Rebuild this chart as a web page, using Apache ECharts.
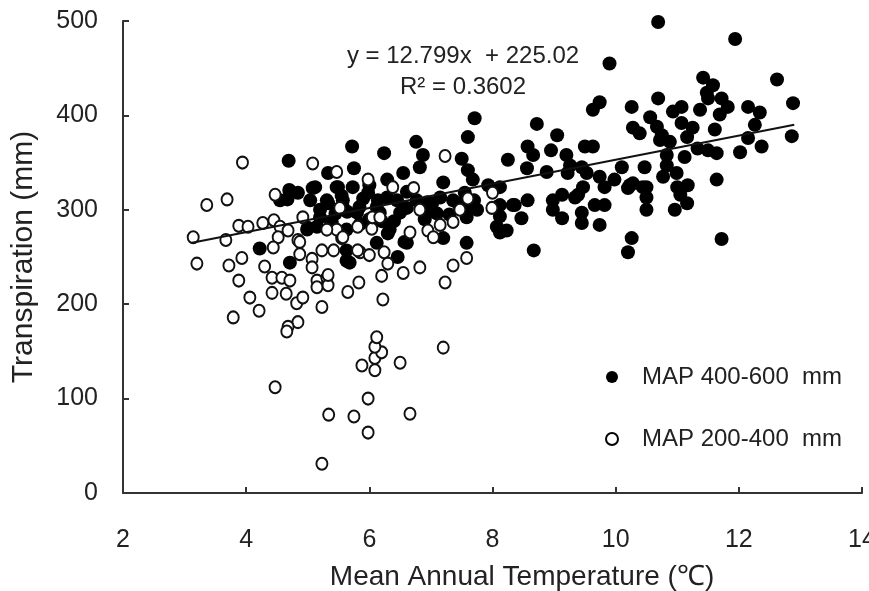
<!DOCTYPE html>
<html>
<head>
<meta charset="utf-8">
<script src="https://cdn.jsdelivr.net/npm/echarts@6/dist/echarts.min.js"></script>
<style>
html,body{margin:0;padding:0;background:#fff;}
#c{width:869px;height:591px;}
</style>
</head>
<body>
<div id="c"></div>
<script>
// MAP 400-600 mm (filled circles): [temperature, transpiration]
const map400_600 = [
  [4.22,259],[4.71,244],[4.69,352],[4.70,321],[4.67,311],[4.55,310],[4.71,319],[4.84,318],[5.08,323],
  [5.31,310],[5.47,324],[5.57,310],[4.99,279],[5.15,282],[5.20,292],[5.39,287],[5.63,279],[5.63,246],
  [7.71,397],[7.60,377],[5.72,367],[6.24,360],[6.76,372],[6.87,358],[5.75,344],[7.50,354],[5.12,324],
  [5.33,339],[5.49,324],[6.29,332],[6.55,339],[6.82,345],[7.20,329],[7.60,342],[7.68,332],[7.93,326],
  [5.98,318],[6.14,310],[6.61,319],[6.77,310],[6.94,308],[7.15,313],[7.36,310],[7.50,303],[7.55,318],
  [5.04,310],[5.33,307],[5.57,303],[5.80,297],[6.17,297],[6.33,279],[6.50,297],[6.94,297],[7.58,292],
  [5.00,281],[6.12,265],[6.57,266],[7.20,270],[7.58,265],[8.67,257],[8.23,278],
  [5.73,324],[8.12,324],[6.29,313],[6.12,303],[7.02,307],[7.44,307],[7.62,302],[6.61,302],[8.33,305],
  [8.07,303],[8.12,293],[8.07,282],[8.12,276],[5.64,298],[5.84,303],[6.30,275],[6.61,265],[6.46,250],
  [5.68,244],[5.63,257],
  [5.20,300],[5.45,296],[5.90,312],[6.00,290],[5.85,285],[6.20,288],[6.40,288],[6.45,310],[6.90,290],
  [7.10,296],[7.30,295],[7.70,310],[7.75,300],[6.00,326],[5.55,315],
  [9.90,455],[9.74,414],[9.63,406],[10.26,409],[10.69,418],[8.72,391],[9.05,379],[8.25,353],[8.57,367],
  [8.66,358],[8.95,363],[9.20,358],[9.50,367],[9.63,367],[10.28,387],[10.39,381],[10.56,398],[10.67,388],
  [10.75,379],[8.56,344],[8.88,340],[9.26,347],[9.45,345],[9.53,339],[9.22,339],[10.10,345],[10.47,345],
  [9.47,324],[9.39,316],[9.74,335],[9.82,324],[9.98,332],[10.20,323],[10.28,328],[10.50,324],[10.50,313],
  [10.50,300],[10.77,335],[8.12,305],[8.36,305],[8.57,310],[8.47,291],[8.98,310],[9.13,316],[8.98,300],
  [9.13,291],[9.34,313],[9.45,297],[9.45,286],[9.66,305],[9.82,305],[9.74,284],[10.26,270],[10.20,255],
  [10.69,499],[10.99,339],[10.72,374],[10.23,326],[10.44,324],
  [11.94,481],[12.62,438],[12.88,413],[12.86,378],[11.42,440],[11.58,432],[11.48,424],[11.50,418],
  [11.72,418],[11.82,409],[11.69,401],[12.15,409],[12.34,403],[12.26,390],[12.15,376],[12.37,367],
  [12.02,361],[11.61,385],[11.37,406],[11.07,409],[10.93,404],[11.07,392],[11.25,387],[11.16,377],
  [10.88,372],[11.33,365],[11.50,363],[11.64,360],[11.12,356],[10.83,358],[10.83,347],[11.00,324],
  [11.17,326],[11.05,316],[11.16,307],[10.96,300],[11.64,332],[11.72,269]
];

// MAP 200-400 mm (open circles): [temperature, transpiration]
const map200_400 = [
  [3.94,350],[5.08,349],[5.47,340],[3.69,311],[3.36,305],[4.47,316],[3.14,271],[3.67,268],[3.88,283],
  [4.03,282],[4.27,286],[4.45,289],[4.55,282],[4.68,278],[4.52,271],[4.44,260],[4.84,268],[3.20,243],
  [3.72,241],[3.93,249],[3.88,225],[4.30,240],[4.06,207],[4.21,193],[3.79,186],[4.42,228],[4.58,228],
  [4.71,225],[4.42,212],[4.65,211],[4.82,201],[4.92,207],[4.84,181],[4.68,176],[5.23,197],[4.87,253],
  [5.07,248],[5.07,239],[5.15,225],[5.31,228],[5.15,218],[5.33,220],[5.65,213],[5.23,257],[5.42,257],
  [5.55,270],[5.47,279],[5.31,279],[5.52,302],[4.92,292],[4.47,112],
  [5.23,31],[5.34,83],[5.75,81],[5.98,64],[5.98,100],[6.66,84],[5.88,135],[6.09,130],[6.09,143],
  [6.20,149],[6.09,155],[6.12,165],[6.50,138],[7.20,154],[6.22,205],[6.20,230],[5.83,223],[4.66,171],
  [5.33,231],[6.55,233],[6.82,239],[7.23,223],[7.36,241],[7.58,249],[6.30,243],[4.87,266],[5.85,255],
  [6.00,252],[6.24,255],
  [7.23,357],[5.98,332],[6.38,324],[6.72,323],[8.00,318],[5.57,271],[5.81,282],[6.04,280],[6.66,276],
  [6.95,278],[7.15,284],[7.04,271],[7.36,287],[5.81,257],[7.99,302],[6.05,292],[6.82,300],[6.17,292],
  [7.60,312],[7.47,300]
];

// Linear trend line end points (y = 12.799x + 225.02)
const trendLine = [[3.12,265],[12.90,390]];

const xTicks = [2,4,6,8,10,12,14];
const yTicks = [0,100,200,300,400,500];
const equationText = 'y = 12.799x  + 225.02';
const r2Text = 'R\u00b2 = 0.3602';
const xTitle = 'Mean Annual Temperature (\u2103)';
const yTitle = 'Transpiration (mm)';
const seriesNames = ['MAP 400-600  mm','MAP 200-400  mm'];

const FONT = "'Liberation Sans',Arial,sans-serif";
const TXT = '#222';

const chart = echarts.init(document.getElementById('c'), null, {renderer:'canvas'});
chart.setOption({
  animation:false,
  backgroundColor:'#fff',
  grid:{left:123,right:7,top:21,bottom:98,containLabel:false,outerBoundsMode:'none'},
  xAxis:{
    type:'value',min:xTicks[0],max:xTicks[xTicks.length-1],interval:2,
    axisLine:{show:true,onZero:false,lineStyle:{color:'#333',width:2}},
    axisTick:{show:true,inside:true,length:6,lineStyle:{color:'#333',width:2}},
    splitLine:{show:false},
    axisLabel:{margin:35,fontSize:25,color:TXT,fontFamily:FONT,showMaxLabel:true}
  },
  yAxis:{
    type:'value',min:yTicks[0],max:yTicks[yTicks.length-1],interval:100,
    name:yTitle,nameLocation:'middle',nameGap:84,
    nameTextStyle:{fontSize:30,color:TXT,fontFamily:FONT},
    axisLine:{show:true,onZero:false,lineStyle:{color:'#333',width:2}},
    axisTick:{show:true,inside:true,length:6,lineStyle:{color:'#333',width:2}},
    splitLine:{show:false},
    axisLabel:{margin:25,fontSize:25,color:TXT,fontFamily:FONT}
  },
  legend:{
    orient:'vertical',left:600,top:360,itemWidth:50,itemHeight:12,itemGap:38,
    textStyle:{fontSize:24,color:TXT,fontFamily:FONT},
    data:[
      {name:seriesNames[0],icon:'circle',itemStyle:{color:'#000',borderWidth:0}},
      {name:seriesNames[1],icon:'circle',itemStyle:{color:'#fff',borderColor:'#000',borderWidth:2}}
    ]
  },
  graphic:[
    {type:'text',style:{text:equationText,x:463,y:56,align:'center',verticalAlign:'middle',font:'24px '+FONT,fill:TXT}},
    {type:'text',style:{text:r2Text,x:463,y:87,align:'center',verticalAlign:'middle',font:'24px '+FONT,fill:TXT}},
    {type:'text',style:{text:xTitle,x:522,y:577,align:'center',verticalAlign:'middle',font:'28px '+FONT,fill:TXT}}
  ],
  series:[
    {name:seriesNames[0],type:'scatter',data:map400_600,symbol:'circle',symbolSize:14,
      itemStyle:{color:'#000',opacity:1},z:2},
    {name:seriesNames[1],type:'scatter',data:map200_400,symbol:'circle',symbolSize:[11,12],
      itemStyle:{color:'#fff',borderColor:'#111',borderWidth:2,opacity:1},z:3},
    {name:'trend',type:'line',data:trendLine,symbol:'none',silent:true,
      lineStyle:{color:'#111',width:2},z:4}
  ]
});
</script>
</body>
</html>
